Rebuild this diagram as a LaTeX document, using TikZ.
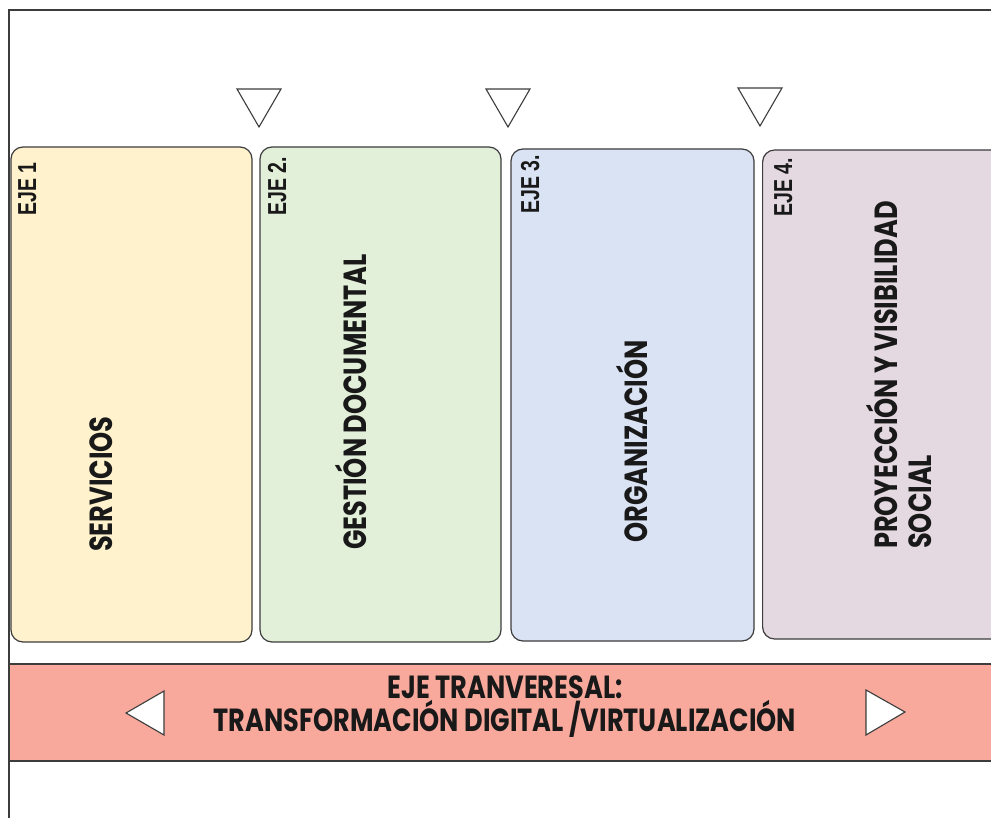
\documentclass[tikz,border=0pt]{standalone}
\usepackage{fontspec}
\setmainfont{Poppins}
\newfontfamily\labfont{Poppins}[FakeStretch=0.80]
\newfontfamily\ejefont{Liberation Sans}[FakeStretch=0.75]
\definecolor{cEa}{HTML}{FFF2CC}
\definecolor{cEb}{HTML}{E2EFD9}
\definecolor{cEc}{HTML}{DAE3F3}
\definecolor{cEd}{HTML}{E4D8E1}
\definecolor{cBand}{HTML}{F8A99C}
\definecolor{cLine}{HTML}{3C3C3C}
\tikzset{
  ejebox/.style={draw=cLine, line width=1.2pt, rounded corners=12pt, inner sep=0pt},
  ejelab/.style={rotate=90, anchor=base west, inner sep=0pt, font=\ejefont\bfseries\fontsize{26}{30}\selectfont, text=black!90},
  mainlab/.style={rotate=90, anchor=base west, inner sep=0pt, font=\labfont\bfseries\fontsize{32}{31}\selectfont, text=black!90},
  tri/.style={draw=cLine, fill=white, line width=1.1pt, line join=miter},
}
\begin{document}
\begin{tikzpicture}[x=1pt,y=-1pt]
\useasboundingbox (0,0) rectangle (991,818);
\clip (0,0) rectangle (991,818);
\fill[white] (0,0) rectangle (991,818);
% outer frame
\draw[cLine, line width=1.4pt] (9,830) -- (9,10) -- (1010,10);
% boxes
\node[ejebox, fill=cEa, minimum width=241pt, minimum height=495pt] (e1) at (131.5,394.5) {};
\node[ejebox, fill=cEb, minimum width=241pt, minimum height=495pt] (e2) at (380.5,394.5) {};
\node[ejebox, fill=cEc, minimum width=243pt, minimum height=492pt] (e3) at (632.5,395) {};
\node[ejebox, fill=cEd, minimum width=260pt, minimum height=489pt, anchor=west] (e4) at (762,394.5) {};
% down triangles
\draw[tri] (237,89) -- (281,89) -- (259,127) -- cycle;
\draw[tri] (486,89) -- (530,89) -- (508,127) -- cycle;
\draw[tri] (738,88) -- (782,88) -- (760,126) -- cycle;
% EJE labels
\node[ejelab] (l1) at (36,216) {EJE 1};
\node[ejelab] (l2) at (286,216) {EJE 2.};
\node[ejelab] (l3) at (539,214) {EJE 3.};
\node[ejelab] (l4) at (792,217) {EJE 4.};
% main labels
\node[mainlab] (t1) at (112,552) {SERVICIOS};
\node[mainlab] (t2) at (366,550) {GESTIÓN DOCUMENTAL};
\node[mainlab] (t3) at (647,543) {ORGANIZACIÓN};
\node[mainlab, align=left, font=\labfont\bfseries\fontsize{32}{34}\selectfont] (t4) at (931,549) {PROYECCIÓN Y VISIBILIDAD\\SOCIAL};
% band
\draw[cLine, line width=1.4pt, fill=cBand] (9,664) rectangle (1010,761);
\node[inner sep=0pt, anchor=base, align=center, font=\labfont\bfseries\fontsize{32}{31}\selectfont, text=black!90] (band) at (505,731) {EJE TRANVERESAL:\\TRANSFORMACIÓN DIGITAL /VIRTUALIZACIÓN};
\draw[tri] (126,713) -- (164,691) -- (164,735) -- cycle;
\draw[tri] (905,712) -- (866,690) -- (866,735) -- cycle;
\end{tikzpicture}
\end{document}
